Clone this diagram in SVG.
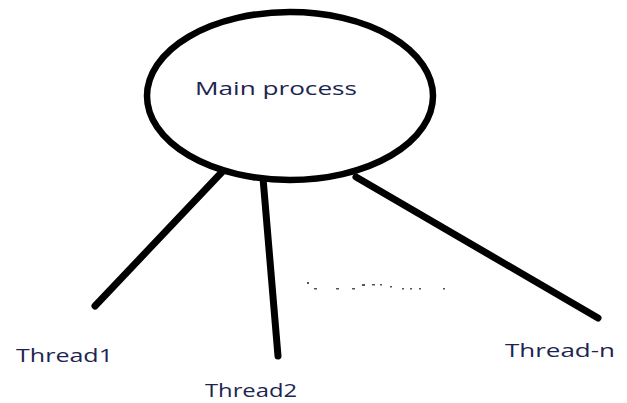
<svg xmlns="http://www.w3.org/2000/svg" width="627" height="403" viewBox="0 0 627 403">
  <style>
    .shape { fill: #ffffff; stroke: #000000; stroke-width: 6.5; }
    .link { stroke: #000000; stroke-width: 7; stroke-linecap: round; fill: none; }
    .label { font-family: "Open Sans", "Liberation Sans", sans-serif; font-size: 19px; fill: #1c2550; }
    .speck { fill: #555555; }
  </style>
  <rect width="627" height="403" fill="#ffffff"/>
  <g id="connectors">
    <line class="link" x1="222" y1="172" x2="95" y2="306"/>
    <line class="link" x1="263" y1="178" x2="278" y2="356"/>
    <line class="link" x1="356" y1="177" x2="598" y2="318"/>
  </g>
  <g id="main-process">
    <ellipse class="shape" cx="290" cy="96" rx="143" ry="84"/>
    <text class="label" x="195" y="95" textLength="162" lengthAdjust="spacingAndGlyphs">Main process</text>
  </g>
  <g id="dots">
    <rect class="speck" x="307" y="282" width="2" height="2"/>
    <rect class="speck" x="314" y="288" width="3" height="1.5"/>
    <rect class="speck" x="336" y="288" width="3" height="1.5"/>
    <rect class="speck" x="352" y="288" width="3" height="1.5"/>
    <rect class="speck" x="362" y="284" width="3" height="2"/>
    <rect class="speck" x="372" y="284" width="3" height="1.5"/>
    <rect class="speck" x="380" y="284" width="2" height="1.5"/>
    <rect class="speck" x="390" y="286" width="2" height="1.5"/>
    <rect class="speck" x="402" y="288" width="2" height="1.5"/>
    <rect class="speck" x="410" y="288" width="2" height="1.5"/>
    <rect class="speck" x="419" y="288" width="2" height="1.5"/>
    <rect class="speck" x="443" y="288" width="2" height="1.5"/>
  </g>
  <g id="thread1">
    <text class="label" x="16" y="362" textLength="97" lengthAdjust="spacingAndGlyphs">Thread1</text>
  </g>
  <g id="thread2">
    <text class="label" x="205" y="397" textLength="92" lengthAdjust="spacingAndGlyphs">Thread2</text>
  </g>
  <g id="thread-n">
    <text class="label" x="505" y="357" textLength="110" lengthAdjust="spacingAndGlyphs">Thread-n</text>
  </g>
</svg>
